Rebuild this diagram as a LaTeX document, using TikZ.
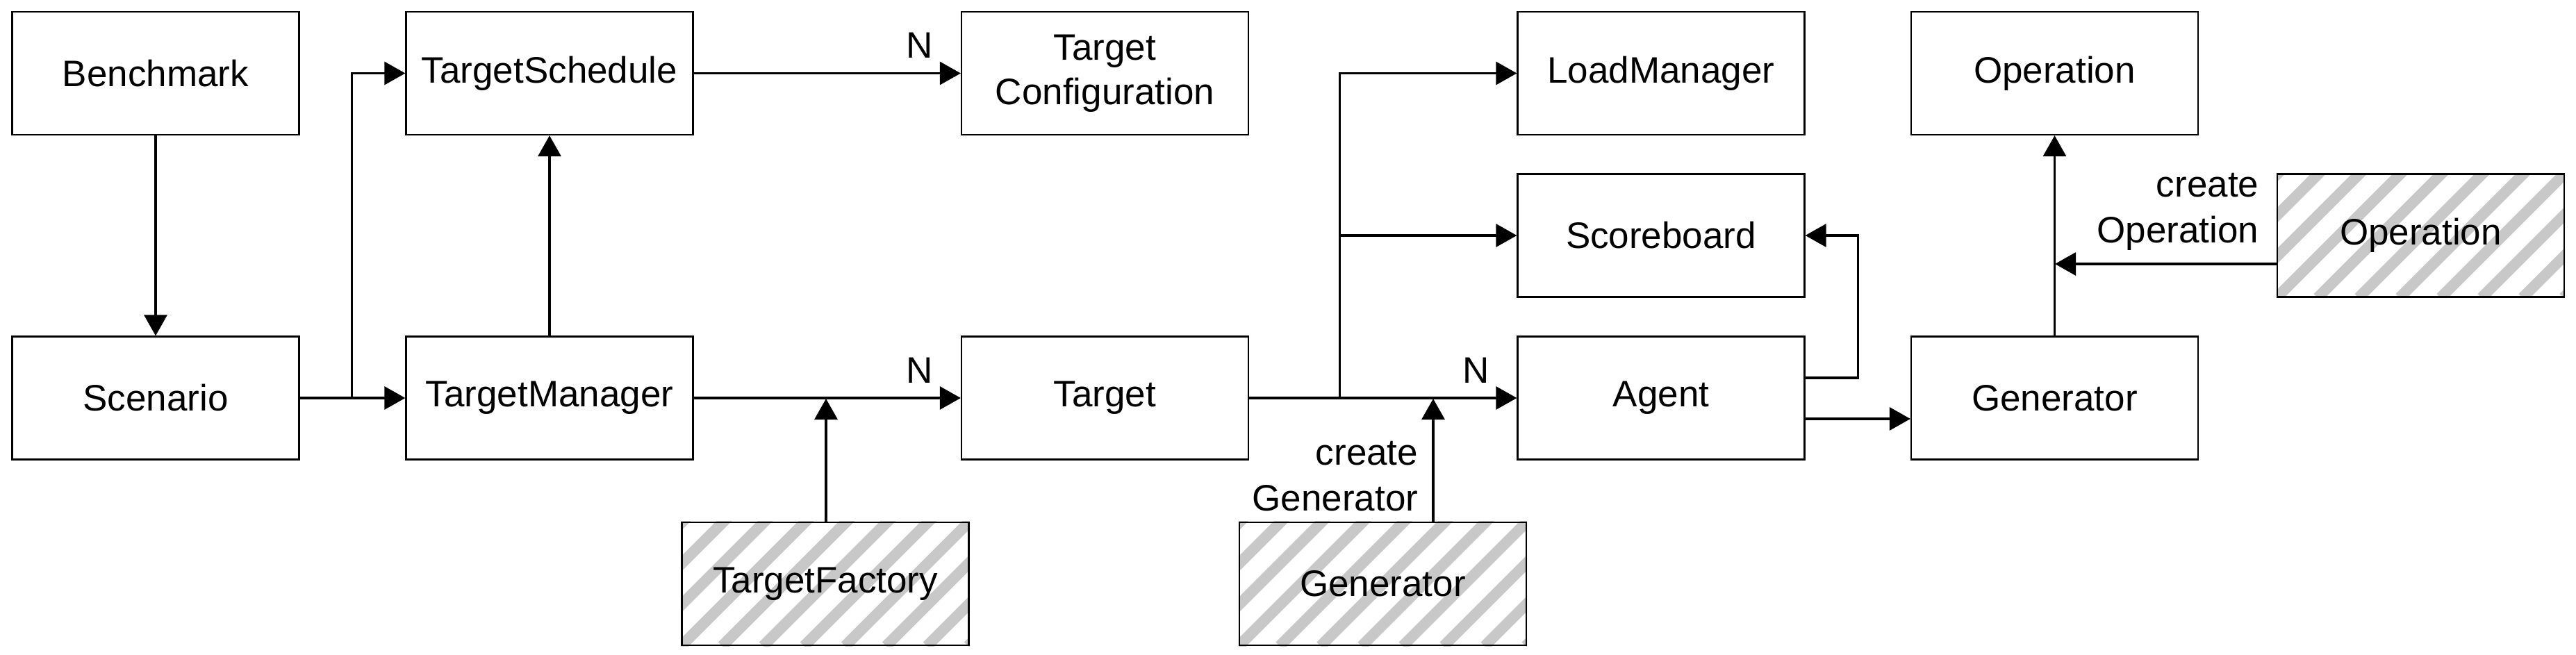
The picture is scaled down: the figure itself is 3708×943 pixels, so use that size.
\documentclass[tikz,border=0pt]{standalone}
\usepackage{fontspec}
\setmainfont{Liberation Sans}
\usetikzlibrary{arrows.meta,backgrounds,calc}
\definecolor{stripegray}{HTML}{C8C8C8}
\tikzset{
  box/.style={draw=black, line width=0.55pt, minimum width=103.25pt, minimum height=44.25pt,
    inner sep=0pt, align=center, font=\fontsize{13.25}{16}\selectfont},
  conn/.style={line width=0.8pt, -{Triangle[length=7.5pt,width=8.25pt]}},
  lbl/.style={font=\fontsize{13.25}{16.5}\selectfont, inner sep=0pt, align=right},
  stripeline/.style={draw=stripegray, line width=3.9pt},
}
\newcommand\hatchfill[1]{%
  \begin{pgfonlayer}{background}
  \begin{scope}
    \clip (#1.south west) rectangle (#1.north east);
    \foreach \i in {-4,...,8} \draw[stripeline] ($(#1.south west)+(\i*59,0)$) -- ++(300,-300);
  \end{scope}
  \end{pgfonlayer}}
\begin{document}
\begin{tikzpicture}[x=0.25pt,y=-0.25pt]
\useasboundingbox (0,0) rectangle (3708,943);
% boxes
\node[box] (bench) at (224,105.5) {Benchmark};
\node[box] (scen)  at (224,573) {Scenario};
\node[box] (ts)    at (791,105.5) {TargetSchedule};
\node[box] (tm)    at (791,573) {TargetManager};
\node[box] (tc)    at (1590.5,105.5) {Target\\Configuration};
\node[box] (tgt)   at (1590.5,573) {Target};
\node[box] (tf)    at (1188,840.5) {TargetFactory};
\node[box] (genh)  at (1990.5,840.5) {Generator};
\node[box] (lm)    at (2391,105.5) {LoadManager};
\node[box] (sb)    at (2391,339) {Scoreboard};
\node[box] (agent) at (2391,573) {Agent};
\node[box] (op)    at (2957.5,105.5) {Operation};
\node[box] (gen)   at (2957.5,573) {Generator};
\node[box] (oph)   at (3484.5,339) {Operation};
\hatchfill{tf}
\hatchfill{genh}
\hatchfill{oph}
% junction coordinates
\coordinate (j1) at (506.5,573);
\coordinate (j2) at (1189,574);
\coordinate (j3) at (1928.5,573);
\coordinate (j4) at (2063,574);
\coordinate (j5) at (2958,380);
% connectors
\draw[conn] (bench) -- (scen);
\draw[conn] (scen) -- (tm);
\draw[conn] (j1) |- (ts);
\draw[conn] (tm) -- (ts);
\draw[conn] (ts) -- (tc);
\draw[conn] (tm) -- (tgt);
\draw[conn] (tf.north -| j2) -- (j2);
\draw[conn] (tgt) -- (agent);
\draw[conn] (j3) |- (lm);
\draw[conn] (j3) |- (sb);
\draw[conn] (genh.north -| j4) -- (j4);
\draw[conn] ($(agent.east)+(0,-29)$) -| ($(sb.east)+(76,0)$) -- (sb.east);
\draw[conn] ($(agent.east)+(0,30)$) -- ($(gen.west)+(0,30)$);
\draw[conn] (gen) -- (op);
\draw[conn] (oph.west |- j5) -- (j5);
% labels
\node[lbl] (n1) at (1324,65.5) {N};
\node[lbl] (n2) at (1324,533) {N};
\node[lbl] (n3) at (2125,533) {N};
\node[lbl, anchor=east] (cg) at (2042,686) {create\\Generator};
\node[lbl, anchor=east] (co) at (3252,305) {create\\Operation};
\end{tikzpicture}
\end{document}
